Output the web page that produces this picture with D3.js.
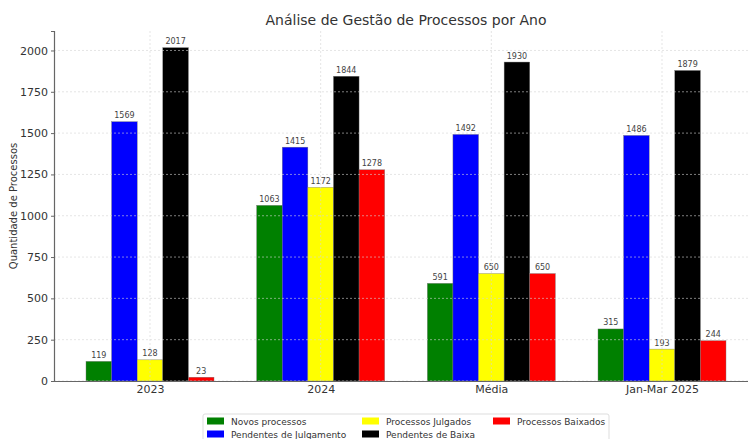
<!DOCTYPE html>
<html>
<head>
<meta charset="utf-8">
<script src="https://cdn.jsdelivr.net/npm/d3@7"></script>
<style>
    body { margin: 0; background: #fff; }
    text { font-family: "DejaVu Sans", sans-serif; }
</style>
</head>
<body>
<div id="chart"></div>
<script>
var categories = ['2023', '2024', 'Média', 'Jan-Mar 2025'];
var seriesNames = ['Novos processos', 'Pendentes de Julgamento',
    'Processos Julgados', 'Pendentes de Baixa', 'Processos Baixados'];
var seriesColors = ['green', 'blue', 'yellow', 'black', 'red'];

var novosProcessos = [119, 1063, 591, 315];
var pendentesJulgamento = [1569, 1415, 1492, 1486];
var processosJulgados = [128, 1172, 650, 193];
var pendentesBaixa = [2017, 1844, 1930, 1879];
var processosBaixados = [23, 1278, 650, 244];

var yTicks = [0, 250, 500, 750, 1000, 1250, 1500, 1750, 2000];

var seriesValues = [novosProcessos, pendentesJulgamento, processosJulgados,
    pendentesBaixa, processosBaixados];

var W = 748, H = 439;
var margin = { top: 31, left: 54, bottom: 58 };
var plotRight = 758; // axes runs a little past the picture edge
var height = H - margin.top - margin.bottom;

var svg = d3.select('#chart').append('svg')
    .attr('width', W)
    .attr('height', H);

// x positions in "category units", like a bar chart with width 0.15 per bar
var barW = 0.15;
var x = d3.scaleLinear()
    .domain([-0.5625, categories.length - 1 + 0.5625])
    .range([margin.left, plotRight]);

var maxVal = d3.max(seriesValues, function (s) { return d3.max(s); });
var y = d3.scaleLinear()
    .domain([0, maxVal * 1.05])
    .range([margin.top + height, margin.top]);

// bars
seriesValues.forEach(function (vals, si) {
    var offset = (si - 2) * barW;
    svg.append('g').selectAll('rect')
        .data(vals)
        .enter().append('rect')
        .attr('x', function (d, i) { return x(i + offset - barW / 2); })
        .attr('width', x(barW) - x(0))
        .attr('y', function (d) { return y(d); })
        .attr('height', function (d) { return y(0) - y(d); })
        .attr('fill', seriesColors[si])
        .attr('stroke', '#777')
        .attr('stroke-width', 0.4);

    svg.append('g').selectAll('text')
        .data(vals)
        .enter().append('text')
        .attr('x', function (d, i) { return x(i + offset); })
        .attr('y', function (d) { return y(d) - 3.5; })
        .attr('text-anchor', 'middle')
        .attr('font-size', 8)
        .attr('fill', '#444')
        .text(function (d) { return d; });
});

// grid lines drawn on top of bars
var grid = svg.append('g')
    .attr('stroke', '#d4d4d4')
    .attr('stroke-width', 0.6)
    .attr('stroke-dasharray', '2,2');

grid.selectAll('.hgrid')
    .data(yTicks)
    .enter().append('line')
    .attr('x1', margin.left).attr('x2', plotRight)
    .attr('y1', function (d) { return y(d); })
    .attr('y2', function (d) { return y(d); });

grid.selectAll('.vgrid')
    .data(categories)
    .enter().append('line')
    .attr('x1', function (d, i) { return x(i); })
    .attr('x2', function (d, i) { return x(i); })
    .attr('y1', margin.top).attr('y2', y(0));

// axes
var yAxis = d3.axisLeft(y).tickValues(yTicks).tickFormat(d3.format('d'))
    .tickSize(3).tickPadding(3);
var yG = svg.append('g')
    .attr('transform', 'translate(' + margin.left + ',0)')
    .call(yAxis);

var xAxis = d3.axisBottom(x)
    .tickValues(d3.range(categories.length))
    .tickFormat(function (d) { return categories[d]; })
    .tickSize(0).tickPadding(4);
var xG = svg.append('g')
    .attr('transform', 'translate(0,' + y(0) + ')')
    .call(xAxis);

[yG, xG].forEach(function (g) {
    g.select('.domain').attr('stroke', '#666').attr('stroke-width', 1.2);
    g.selectAll('.tick line').attr('stroke', '#666');
    g.selectAll('.tick text')
        .attr('fill', '#333')
        .attr('font-size', 11)
        .style('font-family', '"DejaVu Sans", sans-serif');
});

// title and axis label
svg.append('text')
    .attr('x', (margin.left + plotRight) / 2)
    .attr('y', 25)
    .attr('text-anchor', 'middle')
    .attr('font-size', 14)
    .attr('fill', '#333')
    .text('Análise de Gestão de Processos por Ano');

svg.append('text')
    .attr('transform', 'translate(17,' + (margin.top + height / 2) + ') rotate(-90)')
    .attr('text-anchor', 'middle')
    .attr('font-size', 10)
    .attr('fill', '#333')
    .text('Quantidade de Processos');

// legend, 3 columns filled column by column
var legend = svg.append('g').attr('transform', 'translate(203,414)');
legend.append('rect')
    .attr('width', 406).attr('height', 34)
    .attr('rx', 2)
    .attr('fill', '#fff')
    .attr('stroke', '#ddd');

var colX = [4, 159, 290];
var item = legend.selectAll('.item')
    .data(seriesNames)
    .enter().append('g')
    .attr('transform', function (d, i) {
        return 'translate(' + colX[Math.floor(i / 2)] + ',' + (7 + (i % 2) * 13) + ')';
    });
item.append('rect')
    .attr('y', -3.5).attr('width', 17).attr('height', 7)
    .attr('fill', function (d, i) { return seriesColors[i]; });
item.append('text')
    .attr('x', 24).attr('y', 3.5)
    .attr('font-size', 9)
    .attr('fill', '#333')
    .text(function (d) { return d; });
</script>
</body>
</html>
